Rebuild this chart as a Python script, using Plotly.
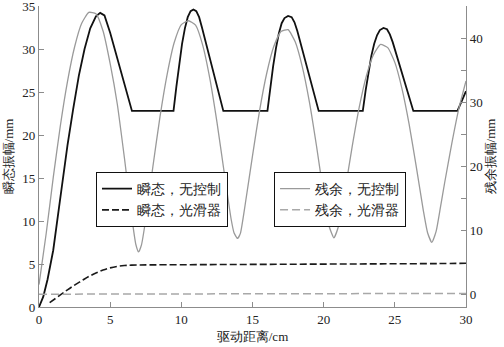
import plotly.graph_objects as go

# transient amplitude, no control (left axis, mm)
x_tr_nc = [0, 0.3, 0.6, 1.0, 1.4, 1.7, 2.0, 2.4, 2.8, 3.2, 3.6, 4.0, 4.3, 4.6, 4.8, 5.0, 6.53,
           9.45, 9.65, 9.85, 10.05, 10.25, 10.45, 10.65, 10.85, 11.05, 11.25, 11.45, 12.95,
           16.05, 16.25, 16.45, 16.65, 16.85, 17.05, 17.25, 17.5, 17.75, 17.95, 18.15, 19.65,
           22.75, 22.95, 23.15, 23.35, 23.55, 23.75, 23.95, 24.2, 24.45, 24.65, 24.85, 26.3,
           29.4, 29.6, 29.8, 30.0]
y_tr_nc = [0, 1.2, 3.2, 6.6, 11.5, 15.2, 18.8, 23.0, 26.9, 30.0, 32.4, 33.8, 34.2, 33.9, 33.0, 31.9, 22.8,
           22.8, 25.6, 28.3, 30.6, 32.4, 33.7, 34.4, 34.6, 34.4, 33.7, 32.5, 22.8,
           22.8, 25.5, 28.0, 30.1, 31.8, 33.0, 33.6, 33.85, 33.7, 33.1, 32.1, 22.8,
           22.8, 25.2, 27.4, 29.2, 30.6, 31.6, 32.2, 32.45, 32.3, 31.7, 30.8, 22.8,
           22.8, 23.5, 24.3, 25.1]

# transient amplitude, smoother (left axis, mm)
x_tr_sm = [0.75, 1.5, 2.0, 2.5, 3.0, 3.5, 4.0, 4.5, 5.0, 5.5, 6.0, 6.5, 8, 12, 16, 20, 24, 28, 30]
y_tr_sm = [0.5, 1.4, 2.0, 2.55, 3.05, 3.55, 3.95, 4.3, 4.55, 4.72, 4.82, 4.87, 4.9, 4.93, 4.96, 4.99, 5.02, 5.05, 5.08]

# residual amplitude, no control (right axis, mm)
x_re_nc = [0, 0.5, 1.0, 1.5, 2.0, 2.5, 3.0, 3.5, 4.0, 4.5, 5.0, 5.5, 6.0, 6.5, 6.8, 7.0,
           7.2, 7.5, 8.0, 8.5, 9.0, 9.5, 10.0, 10.5, 11.0, 11.5, 12.0, 12.5, 13.0, 13.5, 13.7, 13.95,
           14.15, 14.5, 15.0, 15.5, 16.0, 16.5, 17.0, 17.5, 18.0, 18.5, 19.0, 19.5, 20.0, 20.4, 20.72,
           21.0, 21.5, 22.0, 22.5, 23.0, 23.5, 24.0, 24.5, 25.0, 25.5, 26.0, 26.5, 27.0, 27.3, 27.6,
           27.9, 28.2, 28.5, 29.0, 29.5, 30.0]
y_re_nc = [1.5, 9.4, 18.2, 26.3, 33.2, 38.6, 42.3, 44.0, 43.8, 41.1, 36.0, 29.7, 21.3, 12.3, 7.8, 6.6,
           7.7, 11.7, 19.9, 27.7, 34.3, 39.3, 42.1, 42.7, 42.0, 38.9, 33.7, 26.9, 19.2, 11.7, 9.6, 8.7,
           9.5, 14.2, 21.6, 28.7, 34.5, 38.7, 41.0, 41.3, 39.4, 35.5, 30.0, 23.1, 15.6, 10.5, 8.8,
           10.3, 16.2, 23.0, 29.2, 34.1, 37.4, 39.0, 38.5, 36.2, 32.1, 26.6, 20.0, 13.1, 9.6, 8.1,
           9.8, 13.5, 17.4, 23.5, 29.0, 33.3]

# residual amplitude, smoother (right axis, mm)
x_re_sm = [0, 5, 10, 15, 20, 25, 30]
y_re_sm = [0.0, 0.02, 0.04, 0.06, 0.08, 0.1, 0.12]

x_ticks = [0, 5, 10, 15, 20, 25, 30]
yl_ticks = [0, 5, 10, 15, 20, 25, 30, 35]
yr_ticks = [0, 5, 10, 15, 20, 25, 30, 35, 40, 45]
yr_ticktext = ["0", "", "10", "", "20", "", "30", "", "40", ""]

SERIF = "Liberation Serif"
AX = "#8c8c8c"
TXT = "#222222"

fig = go.Figure()
fig.add_trace(go.Scatter(x=x_tr_nc, y=y_tr_nc, mode="lines", name="瞬态，无控制",
                         line=dict(color="#111111", width=1.8), legend="legend"))
fig.add_trace(go.Scatter(x=x_tr_sm, y=y_tr_sm, mode="lines", name="瞬态，光滑器",
                         line=dict(color="#1a1a1a", width=1.6, dash="7px,3px", shape="spline"),
                         legend="legend"))
fig.add_trace(go.Scatter(x=x_re_nc, y=y_re_nc, mode="lines", name="残余，无控制", yaxis="y2",
                         line=dict(color="#9a9a9a", width=1.3, shape="spline", smoothing=0.5),
                         legend="legend2"))
fig.add_trace(go.Scatter(x=x_re_sm, y=y_re_sm, mode="lines", name="残余，光滑器", yaxis="y2",
                         line=dict(color="#a8a8a8", width=1.5, dash="8px,4px"),
                         legend="legend2"))

axis_common = dict(showline=True, linecolor=AX, linewidth=1.2, ticks="inside", ticklen=5,
                   tickcolor=AX, tickwidth=1, showgrid=False, zeroline=False,
                   ticklabeloverflow="allow",
                   tickfont=dict(family=SERIF, size=13, color=TXT))

fig.update_layout(
    template="none",
    width=504, height=347,
    margin=dict(l=39, r=38, t=6, b=40),
    paper_bgcolor="white", plot_bgcolor="white",
    font=dict(family=SERIF, size=13, color=TXT),
    xaxis=dict(range=[0, 30], tickvals=x_ticks, **axis_common,
               title=dict(text="驱动距离/cm", font=dict(family=SERIF, size=13, color=TXT), standoff=6)),
    yaxis=dict(range=[0, 35], tickvals=yl_ticks, **axis_common,
               title=dict(text="瞬态振幅/mm", font=dict(family=SERIF, size=13, color=TXT), standoff=5)),
    yaxis2=dict(range=[-2, 45], tickvals=yr_ticks, ticktext=yr_ticktext, overlaying="y", side="right",
                **axis_common,
                title=dict(text="残余振幅/mm", font=dict(family=SERIF, size=13, color=TXT), standoff=3)),
    legend=dict(x=0.133, y=0.449, xanchor="left", yanchor="top", bgcolor="white",
                bordercolor="#111111", borderwidth=1.2, font=dict(family=SERIF, size=14, color=TXT),
                tracegroupgap=0, itemwidth=30),
    legend2=dict(x=0.55, y=0.449, xanchor="left", yanchor="top", bgcolor="white",
                 bordercolor="#111111", borderwidth=1.2, font=dict(family=SERIF, size=14, color=TXT),
                 tracegroupgap=0, itemwidth=30),
    showlegend=True,
)

fig.write_html("out.html")
